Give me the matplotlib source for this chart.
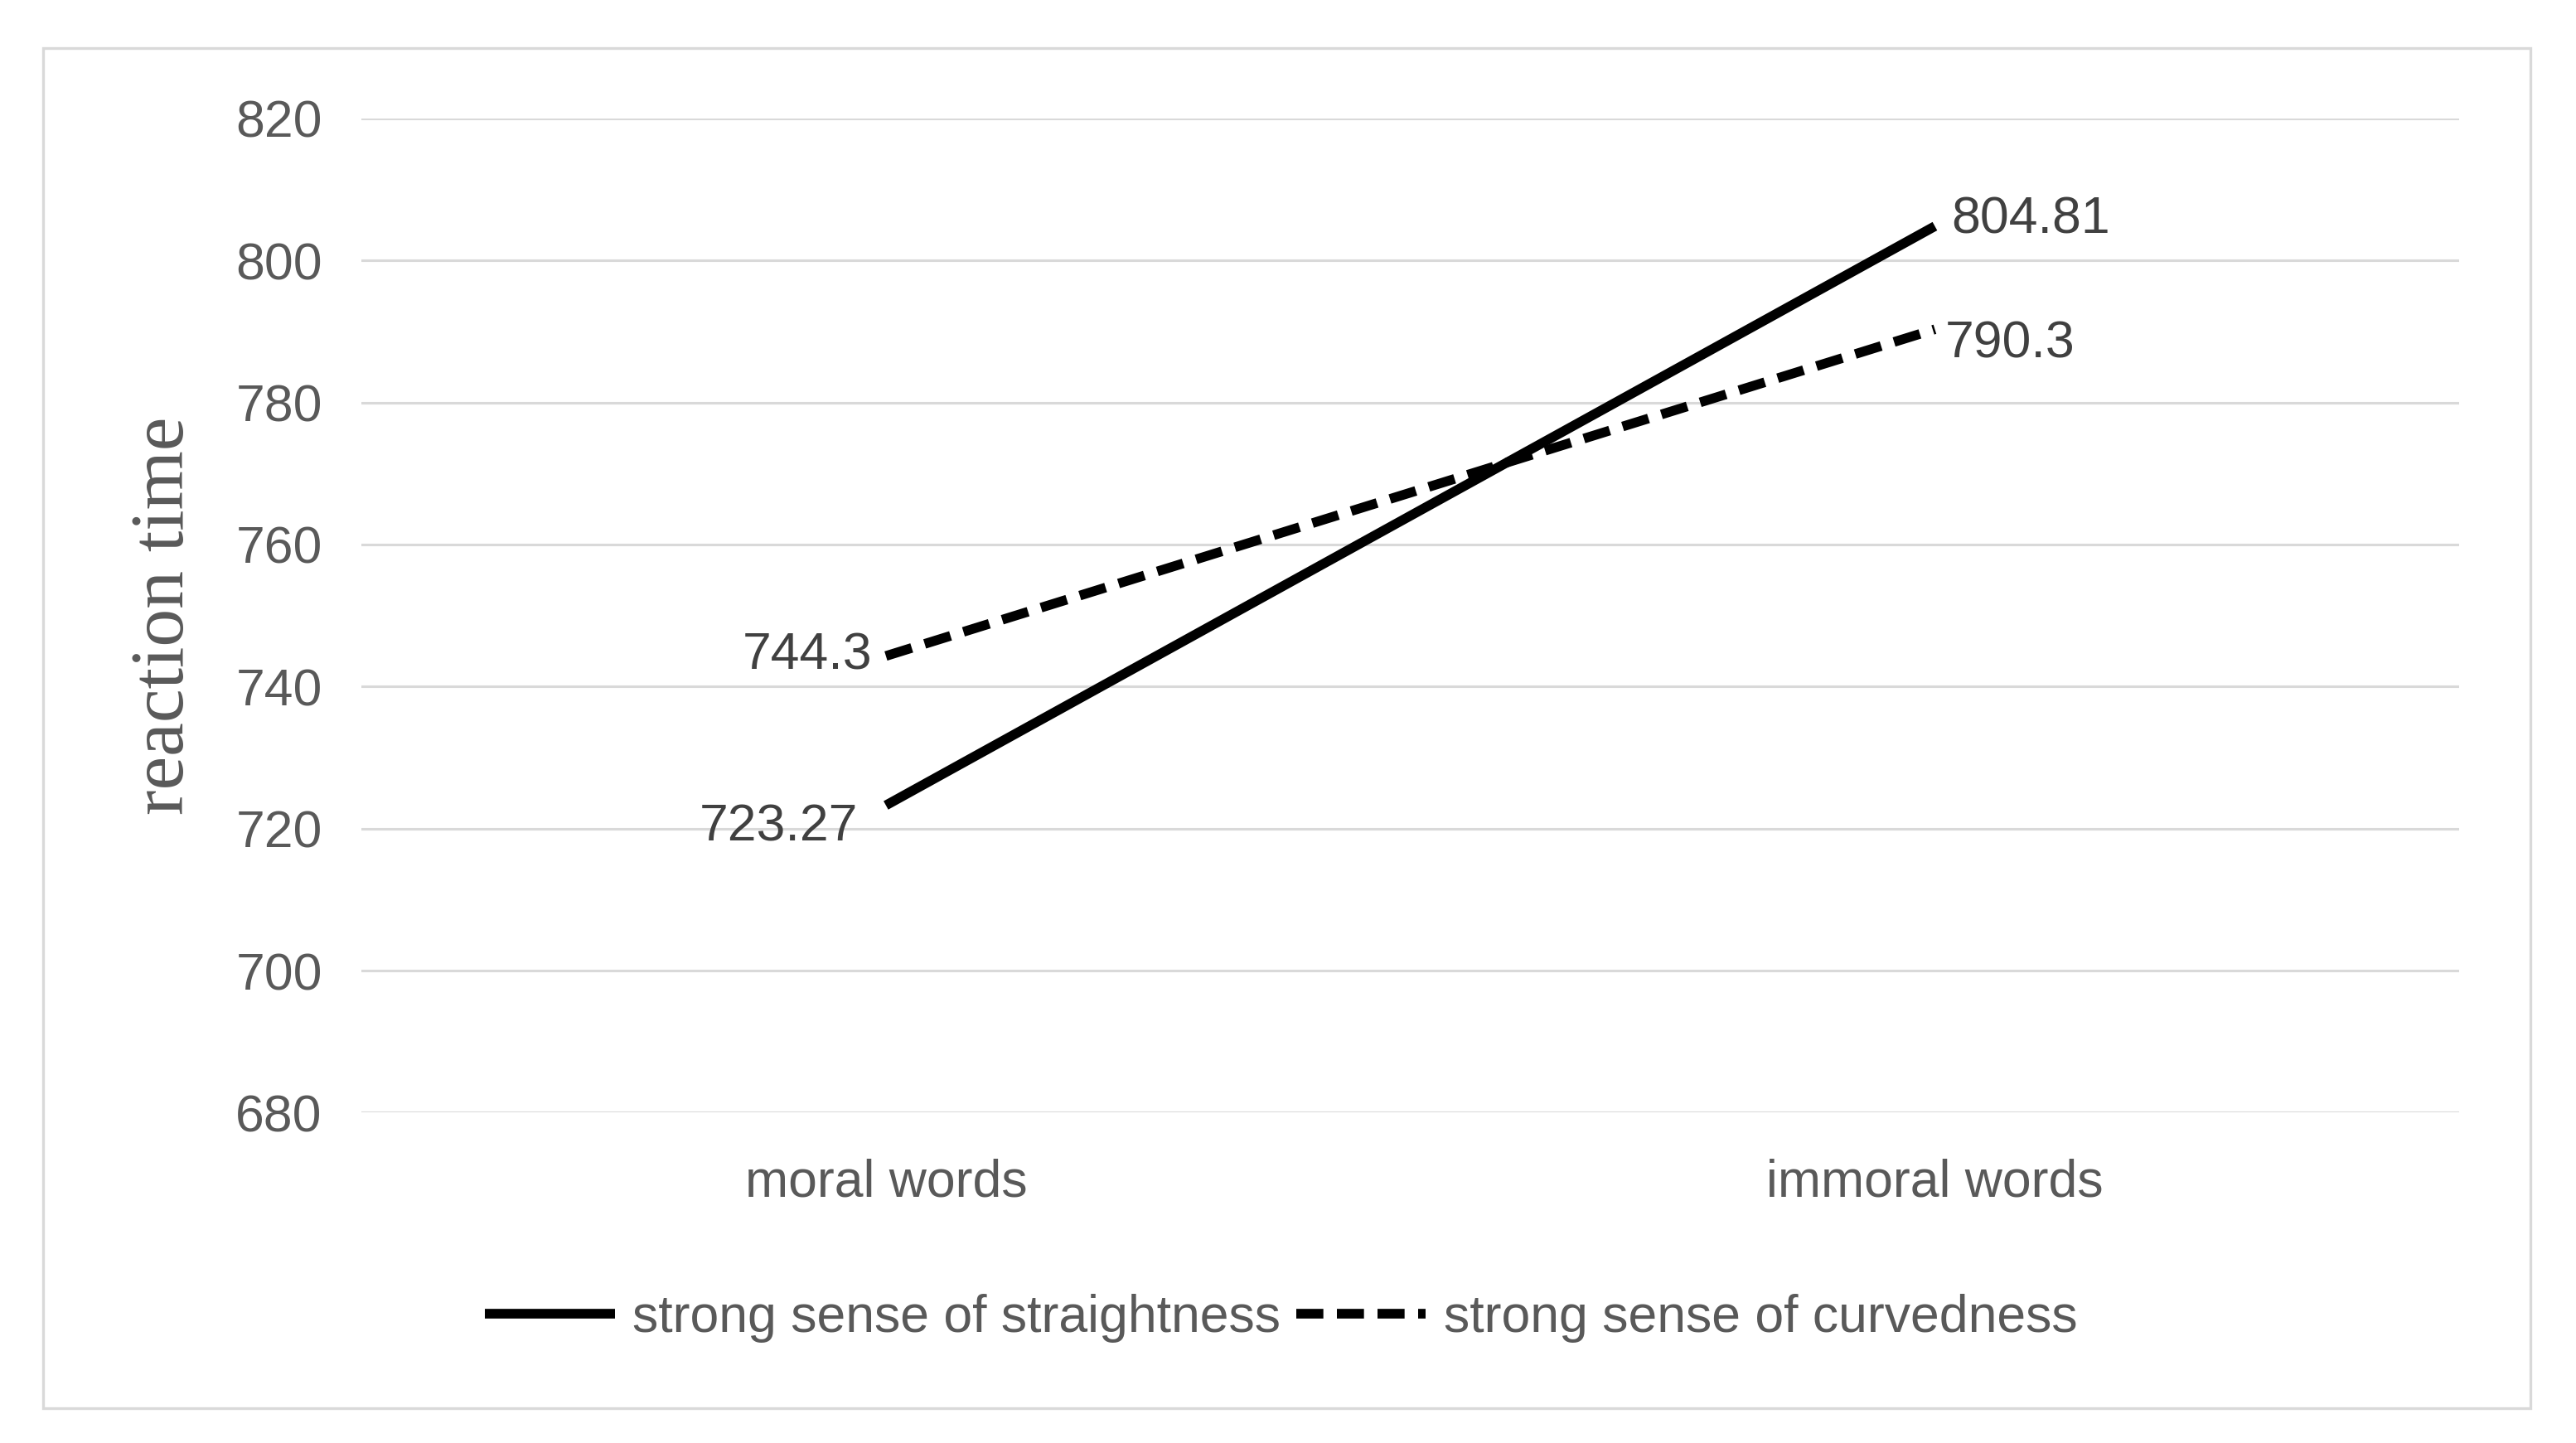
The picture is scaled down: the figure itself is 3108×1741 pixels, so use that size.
import matplotlib
matplotlib.use("Agg")
import matplotlib.pyplot as plt
from matplotlib.patches import Rectangle

categories = ["moral words", "immoral words"]
straightness = [723.27, 804.81]
curvedness = [744.3, 790.3]
series_names = ["strong sense of straightness", "strong sense of curvedness"]
yticks = [680, 700, 720, 740, 760, 780, 800, 820]

sans = 'Liberation Sans'
fs = 22.5

fig = plt.figure(figsize=(15.54, 8.705), dpi=200)
fig.patches.append(Rectangle((26/1568, 1-857/878), (1540-26)/1568, (857-29)/878,
                             transform=fig.transFigure, fill=False,
                             edgecolor='#d9d9d9', lw=1.2))

ax = fig.add_axes([220/1568, 1-677/878, (1497-220)/1568, (677-72)/878])
x = list(range(len(categories)))
ax.plot(x, straightness, color='black', lw=4.2, solid_capstyle='butt',
        label=series_names[0])
ax.plot(x, curvedness, color='black', lw=4.2, linestyle=(0, (2.8, 1.4)),
        dash_capstyle='butt', label=series_names[1])

ax.set_xlim(-0.5, 1.5)
ax.set_ylim(680, 820)
ax.set_yticks(yticks)
ax.set_xticks(x)
ax.set_xticklabels(categories, family=sans, fontsize=fs, color='#595959')
for lab in ax.get_yticklabels():
    lab.set_family(sans)
    lab.set_fontsize(fs)
    lab.set_color('#595959')
ax.tick_params(axis='both', length=0)
ax.tick_params(axis='y', pad=17)
ax.tick_params(axis='x', pad=20)
for s in ax.spines.values():
    s.set_visible(False)
ax.grid(axis='y', color='#d9d9d9', lw=1.1)
ax.set_axisbelow(True)

ax.set_ylabel("reaction time", family='Liberation Serif', fontsize=33,
              color='#595959', labelpad=16)

lab_kw = dict(textcoords='offset points', family=sans, fontsize=fs, color='#404040')
ax.annotate(f"{straightness[0]:g}", (x[0], straightness[0]), xytext=(-12, -9.5),
            ha='right', va='center', **lab_kw)
ax.annotate(f"{curvedness[0]:g}", (x[0], curvedness[0]), xytext=(-6, 0),
            ha='right', va='center', **lab_kw)
ax.annotate(f"{straightness[1]:g}", (x[1], straightness[1]), xytext=(7, 3),
            ha='left', va='center', **lab_kw)
ax.annotate(f"{curvedness[1]:g}", (x[1], curvedness[1]), xytext=(4.5, -6.5),
            ha='left', va='center', **lab_kw)

leg = fig.legend(loc='center', bbox_to_anchor=(780/1568, 1-802/878), ncol=2,
                 frameon=False, prop={'family': sans, 'size': fs},
                 handlelength=2.5, handletextpad=0.35, columnspacing=0.3)
for t in leg.get_texts():
    t.set_color('#595959')

fig.savefig("out.png", dpi=200, facecolor='white')
